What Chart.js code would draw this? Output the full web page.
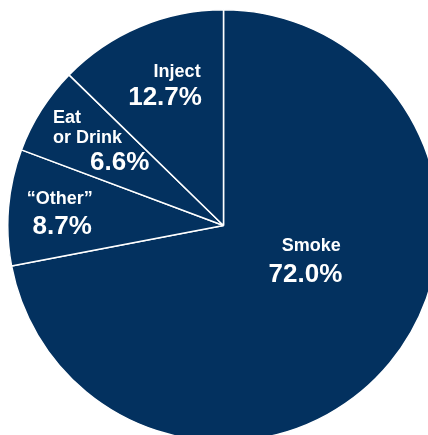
<!DOCTYPE html>
<html>
<head>
<meta charset="utf-8">
<script src="https://cdn.jsdelivr.net/npm/chart.js@4/dist/chart.umd.min.js"></script>
<style>
  html, body { margin: 0; padding: 0; background: #fff; overflow: hidden; }
  body { width: 428px; height: 435px; position: relative; }
  #wrap { position: absolute; left: 7px; top: 9px; width: 433px; height: 433px; }
</style>
</head>
<body>
<div id="wrap"><canvas id="pie"></canvas></div>
<script>
// clockwise from 12 o'clock
const categories = ['Smoke', '\u201COther\u201D', 'Eat\nor Drink', 'Inject'];
const shares = [72.0, 8.7, 6.6, 12.7];
const valueLabels = ['72.0%', '8.7%', '6.6%', '12.7%'];

const NAVY = '#03315f';

// label block placement relative to pie centre, in units of the radius
// dx, dy: where the name baseline sits; align: text alignment
const labelLayout = [
    { dx: 0.407, dy: 0.118, align: 'center', valueDx: 0.380, valueDy: 0.262 },
    { dx: -0.759, dy: -0.100, align: 'center', valueDx: -0.748, valueDy: 0.040 },
    { dx: -0.790, dy: -0.477, align: 'left', valueDx: -0.481, valueDy: -0.255 },
    { dx: -0.215, dy: -0.690, align: 'center', valueDx: -0.271, valueDy: -0.560 }
];

const pieLabels = {
    id: 'pieLabels',
    afterDatasetsDraw(chart) {
        const ctx = chart.ctx;
        const arcs = chart.getDatasetMeta(0).data;
        ctx.save();
        ctx.fillStyle = '#ffffff';
        ctx.textBaseline = 'alphabetic';
        arcs.forEach((arc, i) => {
            const r = arc.outerRadius;
            const lay = labelLayout[i];
            const lines = categories[i].split('\n');
            ctx.font = 'bold 18px "Liberation Sans", Arial, sans-serif';
            ctx.textAlign = lay.align;
            lines.forEach((ln, j) => {
                ctx.fillText(ln, arc.x + lay.dx * r, arc.y + lay.dy * r + j * 20.5);
            });
            ctx.font = 'bold 26px "Liberation Sans", Arial, sans-serif';
            ctx.textAlign = 'center';
            ctx.fillText(valueLabels[i], arc.x + lay.valueDx * r, arc.y + lay.valueDy * r);
        });
        ctx.restore();
    }
};

new Chart(document.getElementById('pie'), {
    type: 'pie',
    data: {
        labels: categories,
        datasets: [{
            data: shares,
            backgroundColor: NAVY,
            borderColor: '#ffffff',
            borderWidth: 1.5,
            hoverOffset: 0
        }]
    },
    options: {
        responsive: true,
        maintainAspectRatio: false,
        animation: false,
        layout: { padding: 0 },
        plugins: {
            legend: { display: false },
            tooltip: { enabled: false }
        }
    },
    plugins: [pieLabels]
});
</script>
</body>
</html>
